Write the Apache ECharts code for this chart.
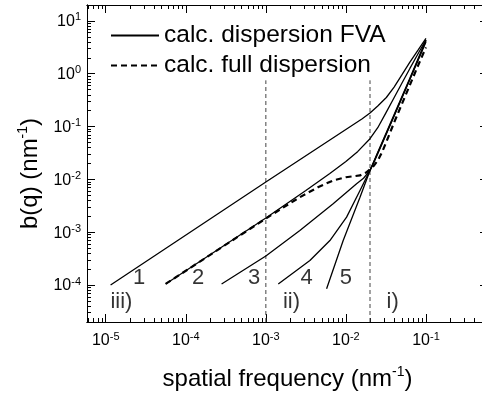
<!DOCTYPE html>
<html>
<head>
<meta charset="utf-8">
<script src="https://cdn.jsdelivr.net/npm/echarts@6/dist/echarts.min.js"></script>
<style>
  html, body { margin: 0; padding: 0; background: #fff; }
  #chart { width: 482px; height: 397px; }
</style>
</head>
<body>
<div id="chart"></div>
<script>
// calc. dispersion FVA, curves 1-5 (q and b(q) in nm^-1)
const curve1Q = [1.15e-5, 1e-3, 1.6e-2, 2e-2, 2.5e-2, 3.2e-2, 4e-2, 5e-2, 6.3e-2, 8e-2, 1e-1];
const curve1B = [1.0e-4, 8.9e-3, 0.141, 0.18, 0.245, 0.355, 0.56, 0.95, 1.66, 2.82, 4.68];

const curve2Q = [5.6e-5, 1e-3, 3.16e-3, 6.3e-3, 1e-2, 1.41e-2, 2e-2, 2.5e-2, 3.16e-2, 3.98e-2, 5e-2, 6.3e-2, 7.9e-2, 1e-1];
const curve2B = [1.05e-4, 1.86e-3, 6.17e-3, 1.29e-2, 2.19e-2, 3.39e-2, 5.9e-2, 9.5e-2, 0.182, 0.347, 0.66, 1.26, 2.34, 4.37];

const curve3Q = [2.8e-4, 1e-3, 2.66e-3, 6.93e-3, 1.36e-2, 1.66e-2, 2e-2, 2.24e-2, 2.51e-2, 3.16e-2, 3.98e-2, 6.31e-2, 1e-1];
const curve3B = [1.05e-4, 3.56e-4, 1.08e-3, 3.46e-3, 8.28e-3, 1.05e-2, 1.48e-2, 2.09e-2, 3.09e-2, 6.9e-2, 0.155, 0.79, 4.17];

const curve4Q = [1.43e-3, 3.55e-3, 6.31e-3, 1.02e-2, 1.5e-2, 2e-2, 2.51e-2, 3.16e-2, 3.98e-2, 6.31e-2, 1e-1];
const curve4B = [1.05e-4, 2.91e-4, 6.97e-4, 1.93e-3, 6.18e-3, 1.48e-2, 3.24e-2, 7.08e-2, 0.158, 0.794, 3.98];

const curve5Q = [5.74e-3, 9.25e-3, 1.5e-2, 2e-2, 2.51e-2, 3.16e-2, 3.98e-2, 6.31e-2, 1e-1];
const curve5B = [8.5e-5, 6.97e-4, 4.61e-3, 1.48e-2, 3.31e-2, 7.41e-2, 0.166, 0.832, 4.37];

// calc. full dispersion (dashed)
const fullQ = [5.6e-5, 1e-3, 1.58e-3, 2.66e-3, 4.47e-3, 6.93e-3, 1e-2, 1.5e-2, 1.82e-2, 2.24e-2, 2.51e-2, 2.82e-2,
               3.16e-2, 3.55e-2, 3.98e-2, 5.01e-2, 6.31e-2, 7.94e-2, 1e-1];
const fullB = [1.05e-4, 1.82e-3, 2.82e-3, 4.61e-3, 7.08e-3, 9.57e-3, 1.1e-2, 1.19e-2, 1.37e-2, 1.82e-2, 2.29e-2, 3.24e-2,
               4.9e-2, 7.59e-2, 0.117, 0.269, 0.617, 1.41, 3.16];

// vertical guides between regions iii) / ii) / i)
const guideQ = [1e-3, 2e-2];
const guideB = [2e-5, 0.75];

// text marks inside the plot
const markText = ['1', '2', '3', '4', '5', 'iii)', 'ii)', 'i)'];
const markQ = [2.61e-5, 1.43e-4, 7.15e-4, 3.23e-3, 1.0e-2, 1.57e-5, 2.09e-3, 3.84e-2];
const markB = [1.35e-4, 1.35e-4, 1.35e-4, 1.35e-4, 1.35e-4, 4.77e-5, 4.77e-5, 4.77e-5];

const xMajor = [1e-5, 1e-4, 1e-3, 1e-2, 1e-1];
const yMajor = [1e-4, 1e-3, 1e-2, 1e-1, 1e0, 1e1];

const FONT = 'Liberation Sans';
const xMin = Math.pow(10, -5.234), xMax = Math.pow(10, -0.225);
const yMin = 2e-5, yMax = 20;

function minorTicks(lo, hi, from, to) {
  const out = [];
  for (let e = from; e <= to; e++) {
    for (let k = 2; k <= 9; k++) {
      const v = k * Math.pow(10, e);
      if (v > lo && v < hi) out.push(v);
    }
  }
  return out;
}
const xMinor = minorTicks(xMin, xMax, -6, -1);
const yMinor = minorTicks(yMin, yMax, -5, 1);

const tickRich = {
  b: { fontSize: 16, fontFamily: FONT, color: '#000', lineHeight: 18, padding: [8, 0, 0, 0], verticalAlign: 'bottom' },
  s: { fontSize: 11, fontFamily: FONT, color: '#000', lineHeight: 12, verticalAlign: 'top' }
};
function powLabel(v) {
  return '{b|10}{s|' + Math.round(Math.log10(v)) + '}';
}

function makeAxis(dim, pos, grid, ticks, len, labels) {
  const ax = {
    type: 'log', gridIndex: grid, position: pos,
    min: dim === 'x' ? xMin : yMin,
    max: dim === 'x' ? xMax : yMax,
    axisLine: { show: true, lineStyle: { color: '#000', width: 1 } },
    axisTick: { show: true, inside: true, length: len, customValues: ticks, lineStyle: { color: '#000', width: 1 } },
    axisLabel: { show: false },
    splitLine: { show: false },
    minorTick: { show: false },
    minorSplitLine: { show: false }
  };
  if (labels) {
    ax.axisLabel = {
      show: true, customValues: ticks, formatter: powLabel, rich: tickRich,
      margin: dim === 'x' ? 9 : 6
    };
  }
  return ax;
}

const xAxes = [
  makeAxis('x', 'bottom', 0, xMajor, 8, true),
  makeAxis('x', 'top', 0, xMajor, 8, false),
  makeAxis('x', 'bottom', 1, xMinor, 4, false),
  makeAxis('x', 'top', 1, xMinor, 4, false)
];
const yAxes = [
  makeAxis('y', 'left', 0, yMajor, 8, true),
  makeAxis('y', 'right', 0, yMajor, 8, false),
  makeAxis('y', 'left', 1, yMinor, 4, false),
  makeAxis('y', 'right', 1, yMinor, 4, false)
];

const nameRich = {
  n: { fontSize: 24, fontFamily: FONT, color: '#000', lineHeight: 26, padding: [8, 0, 0, 0], verticalAlign: 'bottom' },
  s: { fontSize: 14, fontFamily: FONT, color: '#000', lineHeight: 14, verticalAlign: 'top' }
};
xAxes[0].name = '{n|spatial frequency (nm}{s|-1}{n|)}';
xAxes[0].nameLocation = 'middle';
xAxes[0].nameGap = 43;
xAxes[0].nameTextStyle = { rich: nameRich };
yAxes[0].name = '{n|b(q) (nm}{s|-1}{n|)}';
yAxes[0].nameLocation = 'middle';
yAxes[0].nameGap = 45;
yAxes[0].nameTextStyle = { padding: [0, 20, 0, 0], rich: nameRich };

function pairs(qs, bs) {
  return qs.map((q, i) => [q, bs[i]]);
}
function curve(name, qs, bs, dashed) {
  return {
    name: name, type: 'line', xAxisIndex: 0, yAxisIndex: 0,
    data: pairs(qs, bs),
    symbol: 'none', showSymbol: false, smooth: false,
    lineStyle: { color: '#000', width: dashed ? 2.2 : 1.3, type: dashed ? [6, 4] : 'solid' },
    itemStyle: { color: '#000' },
    silent: true
  };
}
function guide(q) {
  return {
    type: 'line', xAxisIndex: 0, yAxisIndex: 0,
    data: guideB.map(b => [q, b]),
    symbol: 'none', showSymbol: false,
    lineStyle: { color: '#444', width: 1, type: [4, 3] },
    silent: true, z: 1
  };
}

const FVA = 'calc. dispersion FVA';
const FULL = 'calc. full dispersion';

let myChart = echarts.init(document.getElementById('chart'));
myChart.setOption({
  animation: false,
  backgroundColor: '#fff',
  textStyle: { fontFamily: FONT },
  grid: [
    { left: 87, top: 5, right: -6, bottom: 75, outerBoundsMode: 'none' },
    { left: 87, top: 5, right: -6, bottom: 75, outerBoundsMode: 'none' }
  ],
  legend: {
    data: [FVA, FULL],
    orient: 'vertical',
    left: 105, top: 18,
    itemWidth: 48, itemHeight: 14, itemGap: 5,
    itemStyle: { opacity: 0 },
    textStyle: { fontSize: 24.5, fontFamily: FONT, color: '#000', lineHeight: 25 },
    selectedMode: false
  },
  xAxis: xAxes,
  yAxis: yAxes,
  series: [
    guide(guideQ[0]),
    guide(guideQ[1]),
    curve(FVA, curve1Q, curve1B, false),
    curve(FVA, curve2Q, curve2B, false),
    curve(FVA, curve3Q, curve3B, false),
    curve(FVA, curve4Q, curve4B, false),
    curve(FVA, curve5Q, curve5B, false),
    curve(FULL, fullQ, fullB, true),
    {
      type: 'scatter', xAxisIndex: 0, yAxisIndex: 0,
      data: markQ.map((q, i) => [q, markB[i], markText[i]]),
      symbolSize: 0,
      label: {
        show: true, position: 'inside',
        formatter: p => p.data[2],
        fontSize: 22, fontFamily: FONT, color: '#000'
      },
      silent: true
    }
  ]
});
</script>
</body>
</html>
